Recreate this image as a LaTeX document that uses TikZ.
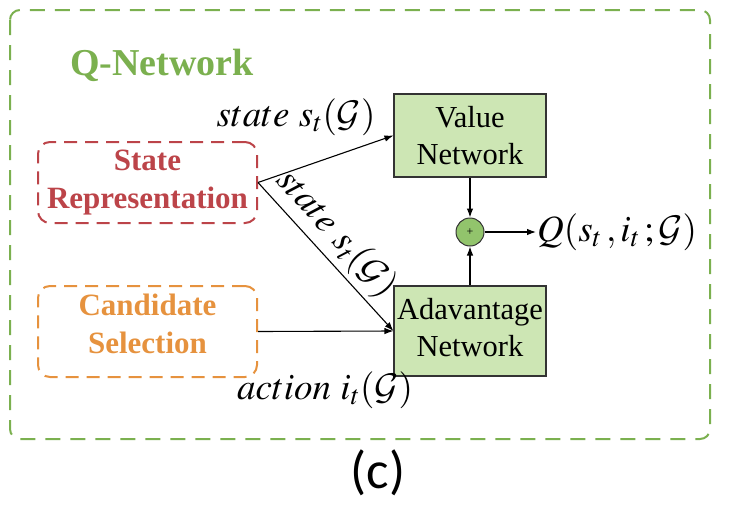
\documentclass[tikz,border=0pt]{standalone}
\usepackage{mathptmx}
\DeclareFontFamily{OMS}{mycal}{\skewchar\font'60}
\DeclareFontShape{OMS}{mycal}{m}{n}{<-> cmsy10}{}
\DeclareMathAlphabet{\mathcal}{OMS}{mycal}{m}{n}
\usepackage{fontspec}
\setmainfont{Liberation Serif}
\newfontfamily\capfont{Carlito}
\usetikzlibrary{arrows.meta}
\definecolor{qgreen}{HTML}{7BB04F}
\definecolor{sred}{HTML}{BC4449}
\definecolor{corange}{HTML}{E6923E}
\definecolor{boxfill}{HTML}{CDE6B4}
\definecolor{plusfill}{HTML}{92C46C}
\tikzset{
  outerbox/.style={draw=qgreen, line width=2pt, rounded corners=10pt, dash pattern=on 15pt off 10pt},
  qtitle/.style={text=qgreen, font=\fontsize{38}{44}\selectfont\bfseries},
  dashbox/.style={rounded corners=12pt, line width=2pt, dash pattern=on 13pt off 8pt, align=center, minimum width=219pt, font=\fontsize{31}{38}\selectfont\bfseries, inner sep=0pt},
  netbox/.style={draw=black!80, fill=boxfill, line width=1.1pt, align=center, minimum width=152pt, font=\fontsize{30.5}{37}\selectfont, inner sep=0pt},
  plus/.style={circle, draw=black!80, fill=plusfill, line width=1pt, minimum size=28pt, inner sep=0pt, font=\fontsize{12}{12}\selectfont},
  arr/.style={-{Latex[length=9pt,width=6.5pt]}, line width=1.1pt, black},
  lbl/.style={font=\fontsize{37}{42}\selectfont, inner sep=1pt}
}
\begin{document}
\begin{tikzpicture}[x=1pt,y=-1pt]
\useasboundingbox (0,0) rectangle (738,522);
\draw[outerbox] (10,10) rectangle (710,439);
\node[qtitle] (qt) at (162,65) {Q-Network};
\node[dashbox, draw=sred, text=sred, minimum height=81pt] (sr) at (147.5,182.5) {State\\Representation};
\node[dashbox, draw=corange, text=corange, minimum height=91pt] (cs) at (147.5,331.5) {Candidate\\Selection\rule[-15pt]{0pt}{0pt}};
\node[netbox, minimum height=83pt] (vn) at (470,135.5) {Value\\Network};
\node[netbox, minimum height=90pt] (an) at (470,331) {Adavantage\\Network\rule[-8pt]{0pt}{0pt}};
\node[plus] (pl) at (470,232) {+};
\node[lbl, anchor=west] (q) at (536,232) {$Q(s_t\,, i_t\,; \mathcal{G})$};
\node[lbl] (l1) at (296,117) {$state\ s_t(\mathcal{G})$};
\node[lbl] (l3) at (325,390) {$action\ i_t(\mathcal{G})$};
\node[font=\capfont\fontsize{53}{56}\selectfont] (cap) at (378,473) {(c)};
\draw[arr] (sr.east) -- (vn.west);
\draw[arr] (sr.east) -- node[lbl, sloped, above=3pt, pos=0.45] (l2) {$state\ s_t(\mathcal{G})$} (an.west);
\draw[arr] (cs.east) -- (an.west);
\draw[arr] (vn.south) -- (pl.north);
\draw[arr] (an.north) -- (pl.south);
\draw[arr] (pl.east) -- (q.west);
\end{tikzpicture}
\end{document}
